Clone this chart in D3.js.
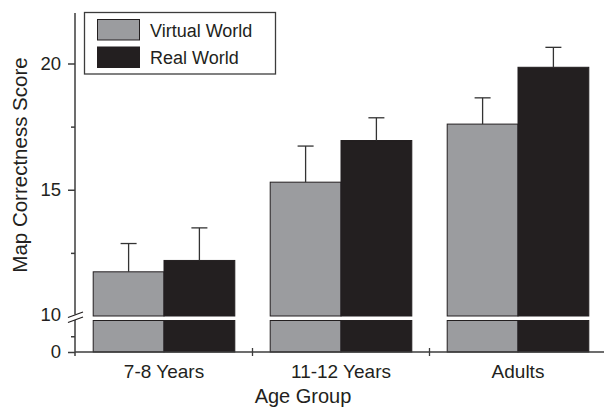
<!DOCTYPE html>
<html>
<head>
<meta charset="utf-8">
<script src="https://cdn.jsdelivr.net/npm/d3@7/dist/d3.min.js"></script>
<style>
  html, body { margin: 0; padding: 0; background: #fff; }
  svg { display: block; font-family: Arial, "Liberation Sans", Helvetica, sans-serif; }
</style>
</head>
<body>
<svg id="chart" width="604" height="411"></svg>
<script>
// Mean map correctness scores by age group, with error bars (+1 SE)
const groups = ["7-8 Years", "11-12 Years", "Adults"];
const seriesNames = ["Virtual World", "Real World"];
const virtualWorld = [11.75, 15.3, 17.6];
const realWorld = [12.2, 16.95, 19.85];
const virtualErr = [1.12, 1.43, 1.04];
const realErr = [1.29, 0.9, 0.79];
const upperTicks = [15, 20];
const upperMinorTicks = [12.5, 17.5];
const lowerTicks = [0];
const lowerMinorTicks = [5];
const breakValue = 10;

const colors = ["#9b9c9f", "#231f20"];
const ink = "#231f20";
const axisInk = "#3c3c3c";

const svg = d3.select("#chart");

// Broken y axis: 0-10 squeezed at the bottom, 10-22 above the break
const yLow = d3.scaleLinear().domain([0, breakValue]).range([352, 320.5]);
const yUp = d3.scaleLinear().domain([breakValue, 22]).range([316, 13]);

const x0 = d3.scaleBand().domain(groups).range([75.5, 606.5]).paddingInner(0.2).paddingOuter(0.1);
const x1 = d3.scaleBand().domain(seriesNames).range([0, x0.bandwidth()]);

const data = groups.map((g, i) => ({
  group: g,
  values: [
    { name: seriesNames[0], v: virtualWorld[i], e: virtualErr[i], c: colors[0] },
    { name: seriesNames[1], v: realWorld[i], e: realErr[i], c: colors[1] }
  ]
}));

// Bars: lower segment and upper segment separated by the break
const gGroups = svg.append("g").selectAll("g").data(data).join("g")
  .attr("transform", d => `translate(${x0(d.group)},0)`);

const bars = gGroups.selectAll("g.bar").data(d => d.values).join("g").attr("class", "bar");

bars.append("rect")
  .attr("x", d => x1(d.name))
  .attr("width", x1.bandwidth())
  .attr("y", yLow(breakValue))
  .attr("height", yLow(0) - yLow(breakValue))
  .attr("fill", d => d.c)
  .attr("stroke", ink).attr("stroke-width", 1);

bars.append("rect")
  .attr("x", d => x1(d.name))
  .attr("width", x1.bandwidth())
  .attr("y", d => yUp(d.v))
  .attr("height", d => yUp(breakValue) - yUp(d.v))
  .attr("fill", d => d.c)
  .attr("stroke", ink).attr("stroke-width", 1);

// Error bars (upper only)
bars.append("line")
  .attr("x1", d => x1(d.name) + x1.bandwidth() / 2)
  .attr("x2", d => x1(d.name) + x1.bandwidth() / 2)
  .attr("y1", d => yUp(d.v))
  .attr("y2", d => yUp(d.v + d.e))
  .attr("stroke", "#333").attr("stroke-width", 1.3);
bars.append("line")
  .attr("x1", d => x1(d.name) + x1.bandwidth() / 2 - 8)
  .attr("x2", d => x1(d.name) + x1.bandwidth() / 2 + 8)
  .attr("y1", d => yUp(d.v + d.e))
  .attr("y2", d => yUp(d.v + d.e))
  .attr("stroke", "#333").attr("stroke-width", 1.3);

// Y axis, upper part
const axisX = 75;
const upAxis = svg.append("g").attr("transform", `translate(${axisX},0)`)
  .call(d3.axisLeft(yUp).tickValues(upperTicks).tickSize(7).tickPadding(7).tickSizeOuter(0));
upAxis.select(".domain").remove();
upAxis.append("line").attr("x1", 0).attr("x2", 0).attr("y1", yUp(22)).attr("y2", 314.5)
  .attr("stroke", axisInk).attr("stroke-width", 1.5);
upAxis.selectAll(".tick line").attr("stroke", axisInk).attr("stroke-width", 1.5);
upAxis.selectAll(".tick text").attr("fill", ink).style("font-size", "18.5px");

const upMinor = svg.append("g").attr("transform", `translate(${axisX},0)`)
  .call(d3.axisLeft(yUp).tickValues(upperMinorTicks).tickSize(4).tickFormat(""));
upMinor.select(".domain").remove();
upMinor.selectAll(".tick line").attr("stroke", axisInk).attr("stroke-width", 1.5);

// Y axis, lower part
const lowAxis = svg.append("g").attr("transform", `translate(${axisX},0)`)
  .call(d3.axisLeft(yLow).tickValues(lowerTicks).tickSize(7).tickPadding(7));
lowAxis.select(".domain").remove();
lowAxis.append("line").attr("x1", 0).attr("x2", 0).attr("y1", 320).attr("y2", yLow(0) + 4)
  .attr("stroke", axisInk).attr("stroke-width", 1.5);
lowAxis.selectAll(".tick line").attr("stroke", axisInk).attr("stroke-width", 1.5);
lowAxis.selectAll(".tick text").attr("fill", ink).style("font-size", "18.5px");

const lowMinor = svg.append("g").attr("transform", `translate(${axisX},0)`)
  .call(d3.axisLeft(yLow).tickValues(lowerMinorTicks).tickSize(4).tickFormat(""));
lowMinor.select(".domain").remove();
lowMinor.selectAll(".tick line").attr("stroke", axisInk).attr("stroke-width", 1.5);

// Break label and slashes
svg.append("text").attr("x", axisX - 14).attr("y", (yUp(breakValue) + yLow(breakValue)) / 2 - 3)
  .attr("text-anchor", "end").attr("dy", "0.32em")
  .attr("fill", ink).style("font-size", "18.5px").text(breakValue);
[0, 5].forEach(off => {
  svg.append("line")
    .attr("x1", axisX - 7).attr("y1", 317.5 + off)
    .attr("x2", axisX + 8).attr("y2", 312 + off)
    .attr("stroke", ink).attr("stroke-width", 1.3);
});

// X axis
const xAxisY = yLow(0);
svg.append("line").attr("x1", axisX).attr("x2", 604).attr("y1", xAxisY).attr("y2", xAxisY)
  .attr("stroke", axisInk).attr("stroke-width", 1.5);
const boundaries = groups.slice(1).map(g => x0(g) - x0.step() * x0.paddingInner() / 2);
svg.append("g").selectAll("line").data(boundaries).join("line")
  .attr("x1", d => d).attr("x2", d => d)
  .attr("y1", xAxisY - 4).attr("y2", xAxisY + 4)
  .attr("stroke", axisInk).attr("stroke-width", 1.3);

svg.append("g").selectAll("text").data(groups).join("text")
  .attr("x", d => x0(d) + x0.bandwidth() / 2)
  .attr("y", 378)
  .attr("text-anchor", "middle")
  .attr("fill", ink).style("font-size", "19px")
  .text(d => d);

// Axis titles
svg.append("text").attr("x", 303).attr("y", 403).attr("text-anchor", "middle")
  .attr("fill", ink).style("font-size", "20px").text("Age Group");
svg.append("text").attr("transform", "translate(27,165) rotate(-90)").attr("text-anchor", "middle")
  .attr("fill", ink).style("font-size", "20.5px").text("Map Correctness Score");

// Legend
const legend = svg.append("g");
legend.append("rect").attr("x", 84.5).attr("y", 12.5).attr("width", 191).attr("height", 61.5)
  .attr("fill", "#fff").attr("stroke", axisInk).attr("stroke-width", 1.3);
seriesNames.forEach((name, i) => {
  legend.append("rect").attr("x", 97.5).attr("y", 19.5 + i * 27.5).attr("width", 42).attr("height", 20.5)
    .attr("fill", colors[i]).attr("stroke", ink).attr("stroke-width", 1);
  legend.append("text").attr("x", 150).attr("y", 36.5 + i * 27.5)
    .attr("fill", ink).style("font-size", "18px").text(name);
});
</script>
</body>
</html>
